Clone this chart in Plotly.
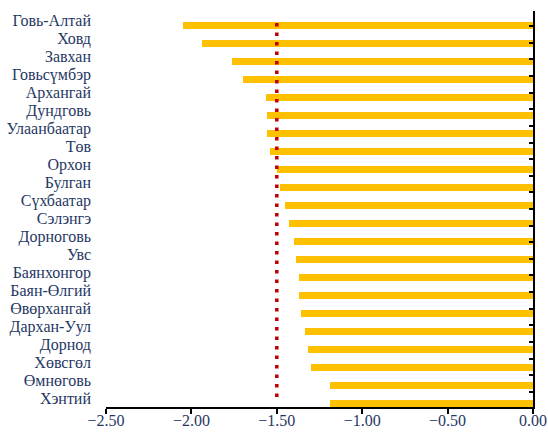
import plotly.graph_objects as go

# Aimags / capital, listed top to bottom
regions = [
    "Говь-Алтай", "Ховд", "Завхан", "Говьсүмбэр", "Архангай", "Дундговь",
    "Улаанбаатар", "Төв", "Орхон", "Булган", "Сүхбаатар", "Сэлэнгэ",
    "Дорноговь", "Увс", "Баянхонгор", "Баян-Өлгий", "Өвөрхангай",
    "Дархан-Уул", "Дорнод", "Хөвсгөл", "Өмнөговь", "Хэнтий",
]
values = [
    -2.05, -1.94, -1.76, -1.70, -1.565, -1.56,
    -1.555, -1.54, -1.50, -1.48, -1.45, -1.43,
    -1.40, -1.39, -1.37, -1.37, -1.36,
    -1.335, -1.32, -1.30, -1.19, -1.19,
]
threshold = -1.5
x_ticks = [-2.5, -2.0, -1.5, -1.0, -0.5, 0.0]

text_color = "#1F3864"
serif = "Liberation Serif, Times New Roman, serif"

fig = go.Figure()

fig.add_trace(go.Bar(
    x=values, y=regions, orientation="h",
    marker=dict(color="#FFC000", line=dict(width=0)),
    width=0.4, offset=0.1,
    yaxis="y", hoverinfo="x+y",
))

# invisible companion trace so the right-hand axis carries the categories
fig.add_trace(go.Scatter(
    x=values, y=regions, mode="markers",
    marker=dict(opacity=0), yaxis="y2", hoverinfo="skip", showlegend=False,
))

# dotted reference line
fig.add_shape(
    type="line", xref="x", yref="y",
    x0=threshold, x1=threshold, y0=0.17, y1=21.0,
    line=dict(color="#C00000", width=3.5, dash="3.5px,6px"),
)

fig.update_layout(
    width=548, height=432,
    margin=dict(l=106, r=15, t=11, b=25),
    paper_bgcolor="white", plot_bgcolor="white",
    showlegend=False,
    bargap=0,
    font=dict(family=serif, size=16, color=text_color),
    xaxis=dict(
        range=[-2.5, 0], tickvals=x_ticks, tickformat=".2f",
        automargin=False,
        showgrid=False, zeroline=False,
        showline=True, linecolor="black", linewidth=1.5,
        ticks="outside", ticklen=5, tickwidth=1.5, tickcolor="black",
        ticklabelstandoff=-7,
        tickfont=dict(family=serif, size=16, color=text_color),
    ),
    yaxis=dict(
        type="category", categoryorder="array", categoryarray=regions,
        tickmode="array", tickvals=regions, ticktext=regions,
        autorange="reversed", automargin=False,
        showgrid=False, zeroline=False, showline=False, ticks="",
        ticklabelstandoff=14,
        tickfont=dict(family=serif, size=16, color=text_color),
    ),
    yaxis2=dict(
        type="category", categoryorder="array", categoryarray=regions,
        tickmode="array", tickvals=regions,
        autorange="reversed", overlaying="y", side="right", automargin=False,
        showgrid=False, zeroline=False, showticklabels=False,
        showline=True, linecolor="black", linewidth=1.5,
        ticks="inside", tickson="boundaries", ticklen=4, tickwidth=1.5,
        tickcolor="black",
    ),
)

fig.write_html("out.html")
